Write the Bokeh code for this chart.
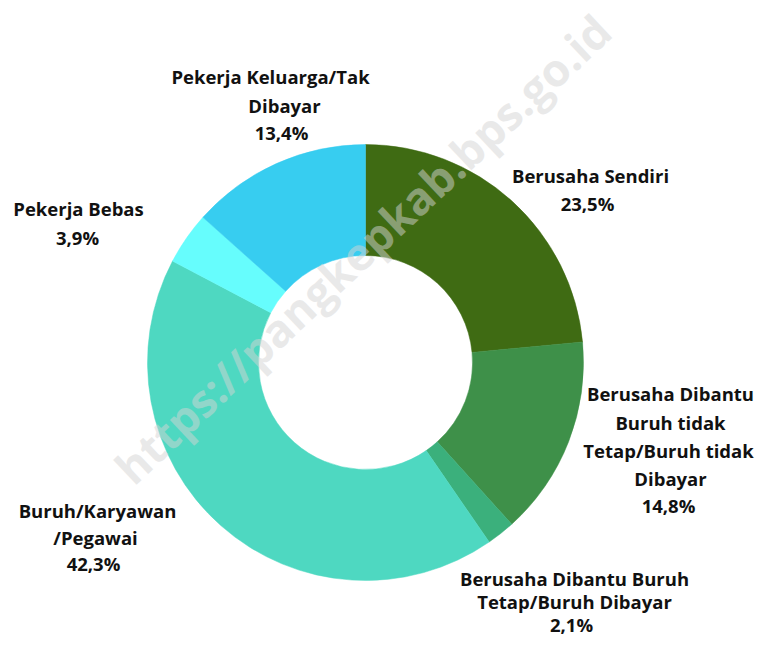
import numpy as np
from bokeh.plotting import figure
from bokeh.models import Range1d, ColumnDataSource
from bokeh.core.properties import value
from bokeh.embed import file_html
from bokeh.resources import INLINE

# ---- data ----
categories = [
    "Berusaha Sendiri",
    "Berusaha Dibantu Buruh tidak Tetap/Buruh tidak Dibayar",
    "Berusaha Dibantu Buruh Tetap/Buruh Dibayar",
    "Buruh/Karyawan/Pegawai",
    "Pekerja Bebas",
    "Pekerja Keluarga/Tak Dibayar",
]
shares = [23.5, 14.8, 2.1, 42.3, 3.9, 13.4]
pct_labels = ["23,5%", "14,8%", "2,1%", "42,3%", "3,9%", "13,4%"]
label_lines = [
    ["Berusaha Sendiri"],
    ["Berusaha Dibantu", "Buruh tidak", "Tetap/Buruh tidak", "Dibayar"],
    ["Berusaha Dibantu Buruh", "Tetap/Buruh Dibayar"],
    ["Buruh/Karyawan", "/Pegawai"],
    ["Pekerja Bebas"],
    ["Pekerja Keluarga/Tak", "Dibayar"],
]
colors = ["#3f6b13", "#3e9049", "#3bb07c", "#4ed8c1", "#66fdfd", "#37cdf0"]

# ---- layout (frame coordinates, y measured up from bottom) ----
W, H = 758, 638
cx, cy = 365, 276
R_out, R_in = 218, 107
# label line positions (x per line, y per line)
label_x = [[590, 587], [670, 670, 668, 670, 668], [574, 574, 571], [97, 95, 93], [78, 77], [270, 284, 281]]
label_y = [[463, 435], [245, 216, 188, 160, 133], [60, 37, 14], [128, 101, 75], [430, 401], [562, 533, 506]]

p = figure(width=W, height=H, output_backend="svg", toolbar_location=None,
           x_range=Range1d(0, W), y_range=Range1d(0, H), min_border=0)
p.axis.visible = False
p.grid.visible = False
p.outline_line_color = None
p.background_fill_color = "white"
p.border_fill_color = "white"

frac = np.array(shares) / sum(shares)
ends = np.pi / 2 - 2 * np.pi * np.cumsum(frac)
starts = np.concatenate([[np.pi / 2], ends[:-1]])
src = ColumnDataSource(dict(cat=categories, start=starts, end=ends, color=colors))
p.annular_wedge(x=cx, y=cy, inner_radius=R_in, outer_radius=R_out,
                start_angle="start", end_angle="end", direction="clock",
                fill_color="color", line_color="color", line_width=0.5, source=src)

xs, ys, ts = [], [], []
for i in range(len(categories)):
    lines = label_lines[i] + [pct_labels[i]]
    for j, t in enumerate(lines):
        xs.append(label_x[i][j])
        ys.append(label_y[i][j])
        ts.append(t)
p.text(x=xs, y=ys, text=ts, text_align="center", text_baseline="middle",
       text_font=value("Open Sans"), text_font_style="bold", text_font_size="18.5px",
       text_color="#111111")

p.text(x=[362], y=[390], text=["https://pangkepkab.bps.go.id"], angle=np.deg2rad(43.2),
       text_align="center", text_baseline="middle", text_font=value("Open Sans"),
       text_font_style="bold", text_font_size="45px", text_color="#d4d4d4", text_alpha=0.5)

open("out.html", "w").write(file_html(p, INLINE))
